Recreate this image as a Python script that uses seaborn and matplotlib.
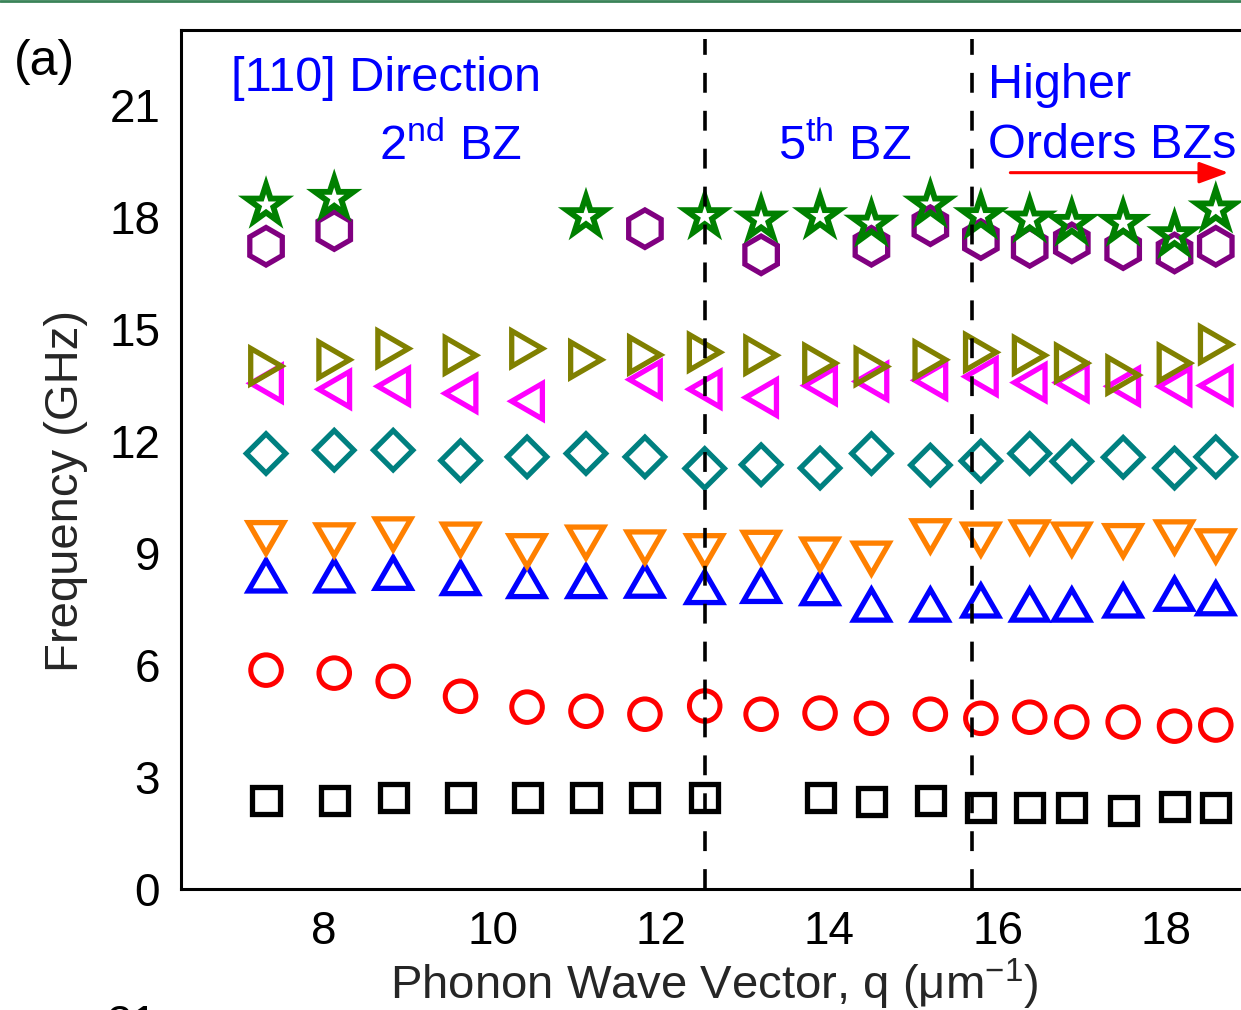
import numpy as np
import pandas as pd
import matplotlib
matplotlib.use("Agg")
import matplotlib.pyplot as plt
from matplotlib.path import Path
from matplotlib.lines import Line2D
from matplotlib.patches import ArrowStyle
import seaborn as sns

nan = np.nan

# Phonon wave vector q (1/um) of each measured column
q_values = [7.31, 8.12, 8.82, 9.62, 10.41, 11.11, 11.81, 12.52, 13.19,
            13.89, 14.50, 15.20, 15.80, 16.38, 16.88, 17.49, 18.10, 18.59]

# Frequencies (GHz) of the individual modes, NaN where a mode was not observed
mode_1 = [2.38, 2.38, 2.46, 2.46, 2.46, 2.46, 2.46, 2.46, nan,
          2.46, 2.35, 2.38, 2.17, 2.19, 2.19, 2.11, 2.22, 2.19]
mode_2 = [5.86, 5.78, 5.56, 5.16, 4.87, 4.76, 4.68, 4.90, 4.68,
          4.71, 4.57, 4.68, 4.57, 4.60, 4.47, 4.47, 4.36, 4.39]
mode_3 = [8.39, 8.39, 8.46, 8.32, 8.24, 8.24, 8.25, 8.08, 8.11,
          8.05, 7.61, 7.61, 7.72, 7.61, 7.61, 7.72, 7.90, 7.78]
mode_4 = [9.40, 9.34, 9.50, 9.36, 9.05, 9.28, 9.15, 9.05, 9.14,
          8.96, 8.85, 9.45, 9.36, 9.42, 9.36, 9.32, 9.42, 9.18]
mode_5 = [11.66, 11.75, 11.75, 11.47, 11.57, 11.66, 11.57, 11.26, 11.36,
          11.27, 11.66, 11.35, 11.46, 11.66, 11.45, 11.56, 11.27, 11.57]
mode_6 = [13.54, 13.38, 13.46, 13.27, 13.06, nan, 13.64, 13.38, 13.16,
          13.48, 13.59, 13.62, 13.72, 13.56, 13.56, 13.46, 13.46, 13.48]
mode_7 = [14.00, 14.17, 14.47, 14.29, 14.47, 14.17, 14.30, 14.37, 14.29,
          14.08, 13.99, 14.17, 14.37, 14.29, 14.08, 13.76, 14.08, 14.58]
mode_8 = [17.21, 17.63, nan, nan, nan, nan, 17.68, nan, 16.98,
          nan, 17.21, 17.76, 17.39, 17.18, 17.30, 17.12, 17.03, 17.21]
mode_9 = [18.32, 18.50, nan, nan, nan, 18.01, nan, 18.01, 17.92,
          18.01, 17.81, 18.32, 18.01, 17.92, 17.83, 17.83, 17.50, 18.19]

# Brillouin-zone boundaries (1/um)
zone_edges = [12.52, 15.70]

x_ticks = [8, 10, 12, 14, 16, 18]
y_ticks = [0, 3, 6, 9, 12, 15, 18, 21]

# Equilateral triangles centred on their bounding box
tri_up = Path([(0, 0.866), (-1, -0.866), (1, -0.866), (0, 0.866)], closed=True)
tri_down = Path([(0, -0.866), (-1, 0.866), (1, 0.866), (0, -0.866)], closed=True)
tri_left = Path([(-0.866, 0), (0.866, 1), (0.866, -1), (-0.866, 0)], closed=True)
tri_right = Path([(0.866, 0), (-0.866, 1), (-0.866, -1), (0.866, 0)], closed=True)

# (values, marker, colour, size in pt, edge width in pt)
series = [
    (mode_1, "s", "#000000", 19.5, 3.8),
    (mode_2, "o", "#ff0000", 22.0, 3.6),
    (mode_3, tri_up, "#0000ff", 25.5, 3.8),
    (mode_4, tri_down, "#ff8000", 25.5, 3.8),
    (mode_5, "D", "#008080", 20.0, 3.8),
    (mode_6, tri_left, "#ff00ff", 25.5, 3.8),
    (mode_7, tri_right, "#808000", 25.5, 3.8),
    (mode_8, "h", "#800080", 27.0, 3.8),
    (mode_9, "*", "#008000", 29.0, 4.2),
]

sns.set_theme(style="white")
plt.rcParams["font.family"] = ["Liberation Sans", "DejaVu Sans"]
plt.rcParams["mathtext.default"] = "regular"

W, H = 1241, 1010
fig = plt.figure(figsize=(W / 100, H / 100), dpi=100)
fig.patch.set_facecolor("white")
ax = fig.add_axes([181 / W, 1 - 889 / H, 0.882, 859 / H])
ax.set_facecolor("white")

for values, marker, color, size, lw in series:
    df = pd.DataFrame({"q": q_values, "f": values}).dropna()
    sns.scatterplot(data=df, x="q", y="f", marker=marker, s=size ** 2,
                    color=color, facecolor="none", edgecolor=color,
                    linewidth=lw, joinstyle="miter", ax=ax, zorder=2,
                    legend=False)

for xe in zone_edges:
    ax.axvline(xe, ymin=0, ymax=0.99, color="black", lw=2.6,
               linestyle=(0, (5.5, 5.0)), zorder=3)

ax.set_xlim(6.3, 19.3)
ax.set_ylim(0, 23)
ax.set_xticks(x_ticks)
ax.set_yticks(y_ticks)
ax.set_xticks(np.arange(7, 20, 2), minor=True)
ax.set_yticks(np.arange(1.5, 23, 3), minor=True)
ax.tick_params(which="both", direction="in", top=False, right=False,
               width=1.8, colors="black", labelsize=33)
ax.tick_params(which="major", length=12)
ax.tick_params(which="minor", length=6.5)
ax.tick_params(axis="y", pad=15)
ax.tick_params(axis="x", pad=15)
for sp in ax.spines.values():
    sp.set_linewidth(2.2)
    sp.set_color("black")

ax.set_xlabel("Phonon Wave Vector, q (\u03bcm$^{-1}$)", fontsize=34)
ax.set_ylabel("Frequency (GHz)", fontsize=34)
ax.xaxis.set_label_coords(714 / W, 1 - 957 / H, transform=fig.transFigure)
ax.yaxis.set_label_coords(88 / W, 1 - 491 / H, transform=fig.transFigure)

blue = "#0000ff"
def label(x, y, s, **kw):
    fig.text(x / W, 1 - y / H, s, color=blue, fontsize=35,
             ha="left", va="baseline", **kw)

label(231, 91, "[110] Direction")
label(379, 160, "2$^{nd}$ BZ")
label(778, 160, "5$^{th}$ BZ")
label(988, 98, "Higher")
label(988, 158, "Orders BZs")

ax.annotate("", xy=(18.74, 19.18), xytext=(16.15, 19.18),
            arrowprops=dict(arrowstyle=ArrowStyle("-|>", head_length=0.6,
                                                  head_width=0.22),
                            mutation_scale=30, color="red", lw=2.2,
                            shrinkA=0, shrinkB=0))

fig.text(14 / W, 1 - 62 / H, "(a)", fontsize=36, ha="left", va="center",
         color="black")
fig.text(158 / W, 1 - 1004 / H, "21", fontsize=33, ha="right", va="top",
         color="black")

fig.add_artist(Line2D([0, 1], [1 - 1 / H, 1 - 1 / H], transform=fig.transFigure,
                      color="#3a8358", lw=2))

fig.savefig("out.png", dpi=100)
